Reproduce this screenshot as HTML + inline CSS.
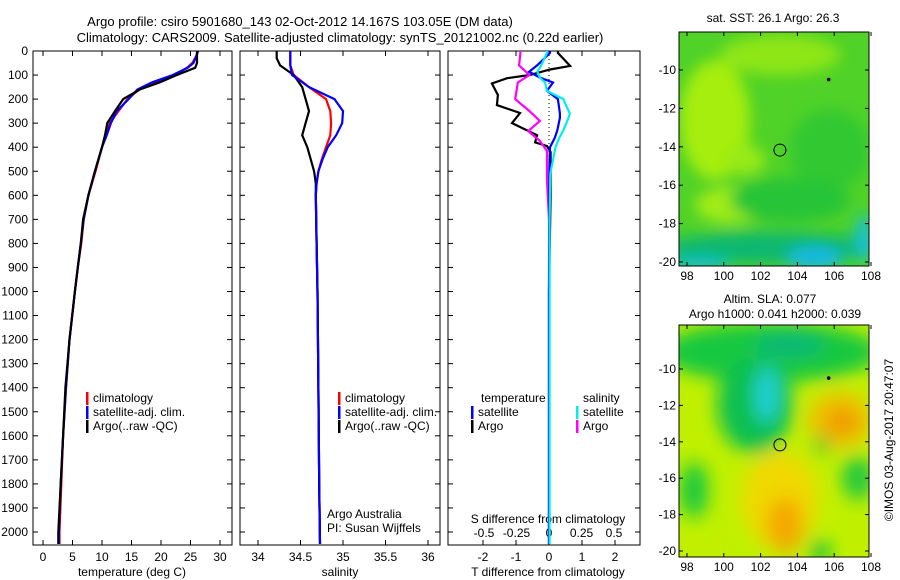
<!DOCTYPE html>
<html><head><meta charset="utf-8"><style>
body{margin:0;background:#fff}
svg{display:block;font-family:"Liberation Sans",sans-serif;font-size:12px}
</style></head><body>
<svg id="c" width="900" height="580" viewBox="0 0 900 580">
<defs>
<filter id="b1" x="-50%" y="-50%" width="200%" height="200%"><feGaussianBlur stdDeviation="7"/></filter>
<filter id="b2" x="-50%" y="-50%" width="200%" height="200%"><feGaussianBlur stdDeviation="9"/></filter>
<clipPath id="m1c"><rect x="679" y="32" width="190" height="234"/></clipPath>
<clipPath id="m2c"><rect x="679" y="325" width="190" height="232"/></clipPath>
</defs>
<text x="300" y="26" text-anchor="middle" font-size="13">Argo profile: csiro 5901680_143 02-Oct-2012 14.167S 103.05E (DM data)</text>
<text x="340" y="42" text-anchor="middle" font-size="13">Climatology: CARS2009. Satellite-adjusted climatology: synTS_20121002.nc (0.22d earlier)</text>

<g clip-path="url(#m1c)">
<rect x="679" y="32" width="190" height="234" fill="#50d228"/>
<g filter="url(#b1)">
<ellipse cx="715" cy="120" rx="35" ry="60" fill="#a6ee10"/>
<ellipse cx="780" cy="55" rx="60" ry="20" fill="#8ee618"/>
<ellipse cx="730" cy="205" rx="35" ry="18" fill="#a0ec12"/>
<ellipse cx="745" cy="160" rx="20" ry="15" fill="#98ea14"/>
<ellipse cx="830" cy="150" rx="40" ry="40" fill="#30c830"/>
<ellipse cx="790" cy="200" rx="60" ry="22" fill="#28c438"/>
<ellipse cx="770" cy="248" rx="110" ry="16" fill="#10b870"/>
<ellipse cx="815" cy="258" rx="28" ry="12" fill="#18b8e0"/>
<ellipse cx="864" cy="238" rx="9" ry="24" fill="#18c0d0"/>
<ellipse cx="700" cy="264" rx="30" ry="7" fill="#18c0c8"/>
</g></g>
<rect x="679" y="32" width="190" height="234" fill="none" stroke="#000"/>
<text x="773" y="22" text-anchor="middle">sat. SST: 26.1 Argo: 26.3</text>

<g clip-path="url(#m2c)">
<rect x="679" y="325" width="190" height="232" fill="#c0f000"/>
<g filter="url(#b2)">
<ellipse cx="770" cy="352" rx="110" ry="30" fill="#18c840"/>
<ellipse cx="755" cy="405" rx="38" ry="48" fill="#10c050"/>
<ellipse cx="767" cy="395" rx="12" ry="28" fill="#20d0d8"/>
<ellipse cx="790" cy="345" rx="35" ry="12" fill="#10b878"/>
<ellipse cx="840" cy="420" rx="32" ry="28" fill="#f0c000"/>
<ellipse cx="842" cy="422" rx="16" ry="13" fill="#f09800"/>
<ellipse cx="780" cy="500" rx="38" ry="48" fill="#f0d800"/>
<ellipse cx="785" cy="525" rx="18" ry="28" fill="#f4a800"/>
<ellipse cx="694" cy="490" rx="14" ry="28" fill="#18c840"/>
<ellipse cx="858" cy="478" rx="16" ry="22" fill="#20c840"/>
<ellipse cx="822" cy="445" rx="7" ry="9" fill="#10c030"/>
<ellipse cx="820" cy="552" rx="10" ry="12" fill="#08c040"/>
</g></g>
<rect x="679" y="325" width="190" height="232" fill="none" stroke="#000"/>
<text x="770" y="303" text-anchor="middle">Altim. SLA: 0.077</text>
<text x="775" y="318" text-anchor="middle">Argo h1000: 0.041 h2000: 0.039</text>
<text transform="translate(893,440) rotate(-90)" text-anchor="middle">©IMOS 03-Aug-2017 20:47:07</text>
<g id="axes"></g>
<g id="lines"></g>
</svg>
<script>
// ---- temperature panel data ----
const tDepth = [0,20,50,70,100,130,160,200,250,300,350,400,500,600,700,800,900,1000,1200,1400,1600,1800,2000,2050];
const tArgo  = [26.1,26.1,26.1,25.8,22.7,19.8,16.4,13.6,12.2,10.9,10.5,10.0,8.8,7.7,6.8,6.4,5.9,5.4,4.5,3.8,3.4,3.0,2.6,2.6];
const tSat   = [26.3,26.0,25.5,24.5,22.0,18.5,16.0,14.5,12.5,11.5,10.8,10.0,8.8,7.7,6.9,6.4,5.9,5.4,4.5,3.9,3.4,3.0,2.7,2.7];
const tClim  = [26.2,26.0,25.3,24.4,22.3,18.8,16.3,14.3,12.8,11.3,10.6,10.0,8.9,7.7,6.9,6.5,5.9,5.4,4.5,3.9,3.4,3.1,2.8,2.8];
// ---- salinity panel data ----
const sDepth = [0,30,60,100,150,200,250,300,350,400,450,500,550,600,800,1000,1400,1800,2050];
const sArgo  = [34.22,34.22,34.26,34.42,34.52,34.56,34.6,34.56,34.52,34.58,34.62,34.66,34.68,34.68,34.69,34.7,34.71,34.72,34.73];
const sSat   = [34.38,34.38,34.38,34.4,34.6,34.9,35.0,34.99,34.92,34.82,34.76,34.71,34.69,34.68,34.69,34.7,34.71,34.72,34.73];
const sClim  = [34.38,34.38,34.38,34.42,34.6,34.8,34.85,34.86,34.85,34.8,34.75,34.71,34.69,34.68,34.69,34.7,34.71,34.72,34.73];
// ---- difference panel data ----
const dDepthT = [0,8,62,77,100,113,135,183,225,258,300,350,380,395,420,600,1000,1500,2050];
const dTArgo  = [0.27,0.27,0.64,0.03,-0.58,-1.27,-1.73,-1.55,-1.58,-0.88,-1.12,-0.36,-0.42,-0.06,0.05,0.05,0.0,0.0,0.0];
const dDepthS = [0,8,60,86,111,131,166,200,260,278,330,360,400,510,700,1000,1500,2050];
const dTSat   = [0.03,0.03,-0.36,-0.6,-0.27,0.12,-0.06,0.27,0.33,0.33,0.25,0.18,0.03,0.01,0.01,0.0,0.0,0.0];
const dSSat   = [-0.015,-0.015,-0.06,-0.09,-0.07,-0.03,-0.015,0.11,0.16,0.15,0.11,0.08,0.05,0.01,0.005,0.005,0.005,0.005];
const dSArgoD = [0,8,60,100,131,200,250,291,333,374,416,540,700,1000,2050];
const dSArgo  = [-0.22,-0.22,-0.23,-0.15,-0.24,-0.26,-0.15,-0.07,-0.16,-0.07,-0.015,-0.015,0.0,0.0,0.0];
const tTicks = [0,5,10,15,20,25,30];
const sTicks = [34,34.5,35,35.5,36];
const dTTicks = [-2,-1,0,1,2];
const dSTicks = [-0.5,-0.25,0,0.25,0.5];
const depthTicks = [0,100,200,300,400,500,600,700,800,900,1000,1100,1200,1300,1400,1500,1600,1700,1800,1900,2000];
const lonTicks = [98,100,102,104,106,108];
const latTicks = [-10,-12,-14,-16,-18,-20];

const NS='http://www.w3.org/2000/svg';
const yD = d => 51 + d*0.2405;
const xT = t => 43 + t*5.9;
const xS = s => 258 + (s-34)*85;
const xDT = v => 549 + v*33;
const xDS = v => 549 + v*130;
const mx = lon => 687 + (lon-98)*18.4;
const my1 = lat => 70 + (-10-lat)*19.2;
const my2 = lat => 369 + (-10-lat)*18.2;
const axes=document.getElementById('axes'), lines=document.getElementById('lines');
function mk(tag,attrs,parent,txt){const e=document.createElementNS(NS,tag);for(const k in attrs)e.setAttribute(k,attrs[k]);if(txt!==undefined)e.textContent=txt;parent.appendChild(e);return e;}

const panels=[[33,232],[240,440],[448,640]];
panels.forEach((p,i)=>{
  const r=mk('rect',{x:p[0],y:51,width:p[1]-p[0],height:494,fill:'none',stroke:'#000'},axes);
  
  
  depthTicks.forEach(d=>{
    mk('line',{x1:p[0],x2:p[0]+5,y1:yD(d),y2:yD(d),stroke:'#000'},axes);
    mk('line',{x1:p[1],x2:p[1]-5,y1:yD(d),y2:yD(d),stroke:'#000'},axes);
  });
});
depthTicks.forEach(d=>{
  const t=mk('text',{x:28,y:yD(d)+4,'text-anchor':'end'},axes,String(d));
  
  
});
function xticks(arr,fx,y,lab){arr.forEach(v=>{
  mk('line',{x1:fx(v),x2:fx(v),y1:545,y2:540,stroke:'#000'},axes);
  mk('line',{x1:fx(v),x2:fx(v),y1:51,y2:56,stroke:'#000'},axes);
  if(lab){const t=mk('text',{x:fx(v),y:y,'text-anchor':'middle'},axes,String(v));
  
  }
});}
xticks(tTicks,xT,561,true);
xticks(sTicks,xS,561,true);
xticks(dTTicks,xDT,561,true);
dSTicks.forEach(v=>{const t=mk('text',{x:xDS(v),y:537,'text-anchor':'middle'},axes,String(v));
  
  });
[['temperature (deg C)',132],['salinity',340],['T difference from climatology',548]].forEach(a=>{
  const t=mk('text',{x:a[1],y:576,'text-anchor':'middle'},axes,a[0]);
  
  });
let st=mk('text',{x:548,y:523,'text-anchor':'middle'},axes,'S difference from climatology');


mk('line',{x1:xDT(0),x2:xDT(0),y1:51,y2:545,stroke:'#000','stroke-dasharray':'1,3'},axes);

function poly(xs,ds,fx,col,name){
  const pts=xs.map((v,i)=>fx(v).toFixed(1)+','+yD(ds[i]).toFixed(1)).join(' ');
  const e=mk('polyline',{points:pts,fill:'none',stroke:col,'stroke-width':2.2},lines);
  
  
}
poly(tClim,tDepth,xT,'#f00','temp-climatology-line');
poly(tSat,tDepth,xT,'#00f','temp-satellite-line');
poly(tArgo,tDepth,xT,'#000','temp-argo-line');
poly(sClim,sDepth,xS,'#f00','sal-climatology-line');
poly(sArgo,sDepth,xS,'#000','sal-argo-line');
poly(sSat,sDepth,xS,'#00f','sal-satellite-line');
poly(dTArgo,dDepthT,xDT,'#000','tdiff-argo-line');
poly(dSArgo,dSArgoD,xDS,'#f0f','sdiff-argo-line');
poly(dTSat,dDepthS,xDT,'#00f','tdiff-satellite-line');
poly(dSSat,dDepthS,xDS,'#0ee','sdiff-satellite-line');

function leg(x,y,col,txt){
  if(col) mk('rect',{x:x,y:y-10,width:2.5,height:13,fill:col},axes);
  const t=mk('text',{x:x+7,y:y},axes,txt);
  
  
}
[[86,'#f00','climatology'],[86,'#00f','satellite-adj. clim.'],[86,'#000','Argo(..raw -QC)']].forEach((a,i)=>leg(a[0],402+i*14,a[1],a[2]));
[[338,'#f00','climatology'],[338,'#00f','satellite-adj. clim.'],[338,'#000','Argo(..raw -QC)']].forEach((a,i)=>leg(a[0],402+i*14,a[1],a[2]));
leg(474,402,null,'temperature');leg(576,402,null,'salinity');
leg(471,416,'#00f','satellite');leg(471,430,'#000','Argo');
leg(576,416,'#0ee','satellite');leg(576,430,'#f0f','Argo');
let a1=mk('text',{x:327,y:518},axes,'Argo Australia');

let a2=mk('text',{x:327,y:532},axes,'PI: Susan Wijffels');


function mapAxes(y0,y1,my){
  lonTicks.forEach(v=>{
    mk('line',{x1:mx(v),x2:mx(v),y1:y1,y2:y1-4,stroke:'#000'},axes);
    mk('line',{x1:mx(v),x2:mx(v),y1:y0,y2:y0+4,stroke:'#000'},axes);
    const t=mk('text',{x:mx(v),y:y1+14,'text-anchor':'middle'},axes,String(v));
    
    
  });
  latTicks.forEach(v=>{
    mk('line',{x1:679,x2:683,y1:my(v),y2:my(v),stroke:'#000'},axes);
    mk('line',{x1:869,x2:865,y1:my(v),y2:my(v),stroke:'#000'},axes);
    const t=mk('text',{x:676,y:my(v)+4,'text-anchor':'end'},axes,String(v));
    
    
  });
  const c=mk('circle',{cx:mx(103.05),cy:my(-14.17),r:6,fill:'none',stroke:'#000'},axes);
  
  
  mk('circle',{cx:mx(105.7),cy:my(-10.5),r:1.8,fill:'#000'},axes);
}
mapAxes(32,266,my1);
mapAxes(325,557,my2);
</script>
</body></html>
